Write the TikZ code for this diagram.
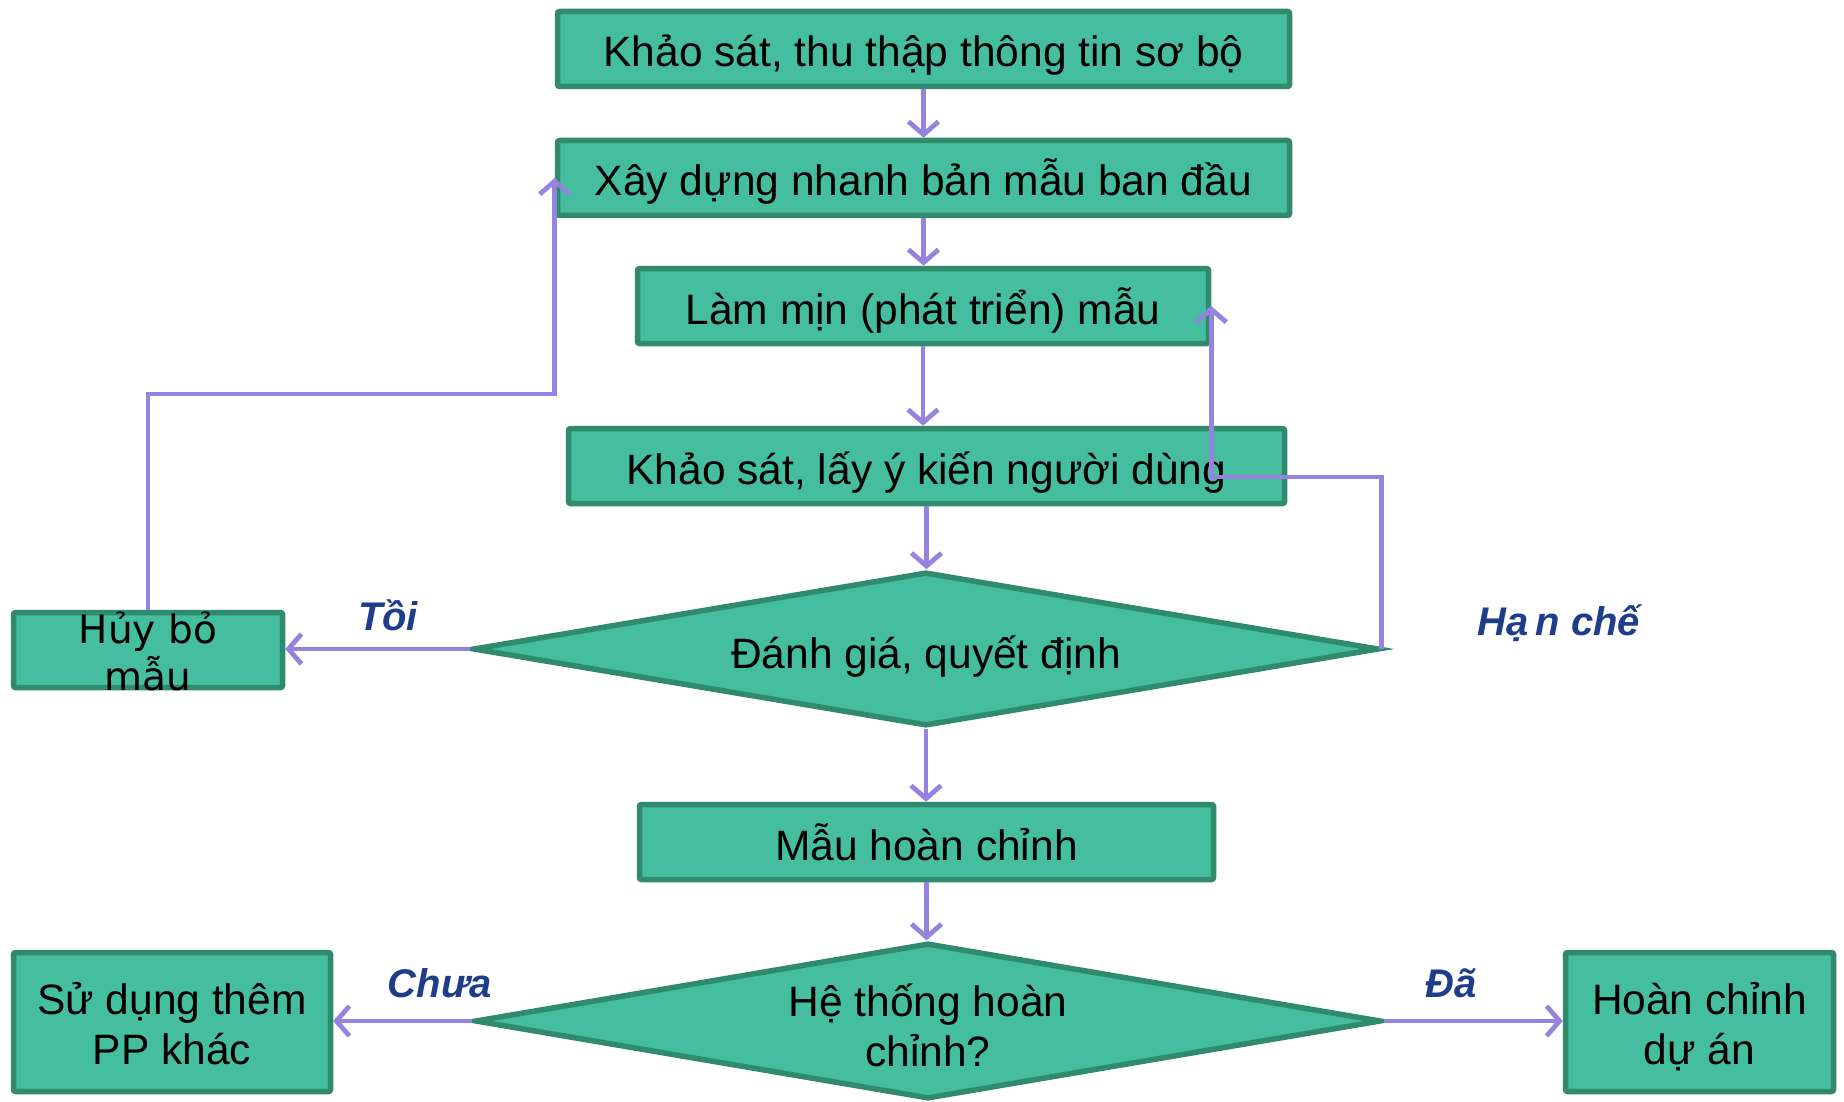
\documentclass[tikz,border=0pt]{standalone}
\usepackage{fontspec}
\setmainfont{Liberation Sans}
\newfontfamily\dvsans{DejaVu Sans}
\usetikzlibrary{shapes.geometric,arrows.meta}
\definecolor{boxfill}{RGB}{69,190,159}
\definecolor{boxline}{RGB}{48,138,110}
\definecolor{flow}{RGB}{150,131,224}
\definecolor{tag}{RGB}{30,62,140}
\tikzset{
  box/.style={draw=boxline, fill=boxfill, line width=5.5pt, rounded corners=2pt,
    inner sep=0pt, align=center, font=\fontsize{42.5}{50}\selectfont},
  onebox/.style={box, minimum height=75pt, text height=40pt, text depth=4pt},
  decision/.style={diamond, draw=boxline, fill=boxfill, line width=5.5pt,
    inner sep=0pt, aspect=5.7},
  txt/.style={font=\fontsize{42.5}{50}\selectfont, align=center, inner sep=0pt},
  conn/.style={draw=flow, line width=4.8pt, -{Straight Barb[length=13pt,width=30pt]}},
  tagtxt/.style={font=\fontsize{40}{48}\selectfont\bfseries\itshape, text=tag, inner sep=0pt},
}
\begin{document}
\begin{tikzpicture}[x=1pt,y=-1pt]
\useasboundingbox (0,0) rectangle (1844,1102);

% main column
\node[onebox, minimum width=732pt] (b1) at (923.5,49) {Khảo sát, thu thập thông tin sơ bộ};
\node[onebox, minimum width=732pt] (b2) at (923.5,178) {Xây dựng nhanh bản mẫu ban đầu};
\node[onebox, minimum width=571pt] (b3) at (923,306) {Làm mịn (phát triển) mẫu};
\node[onebox, minimum width=716pt] (b4) at (926.5,466) {Khảo sát, lấy ý kiến người dùng};
\node[decision, minimum width=906pt, minimum height=154pt] (d1) at (926,649) {};
\node[txt] (d1t) at (926,657) {Đánh giá, quyết định};
\node[onebox, minimum width=574pt] (b5) at (926.5,842) {Mẫu hoàn chỉnh};
\node[decision, minimum width=906pt, minimum height=156pt] (d2) at (928,1021) {};
\node[txt] (d2t) at (928,1025) {Hệ thống hoàn\\chỉnh?};

% side boxes
\node[box, minimum width=269pt, minimum height=75pt] (huy) at (148,650) {};
\node[inner sep=0pt, align=center, font=\dvsans\fontsize{39}{47}\selectfont] (huyt) at (148,651) {Hủy bỏ\\mẫu};
\node[box, minimum width=317pt, minimum height=139pt] (pp) at (172,1022) {};
\node[txt] (ppt) at (172,1024) {Sử dụng thêm\\PP khác};
\node[box, minimum width=268pt, minimum height=139pt] (done) at (1699.5,1022) {};
\node[txt] (donet) at (1699.5,1027) {Hoàn chỉnh\\dự án};

% branch labels
\node[tagtxt] (ltoi) at (388,615) {Tồi};
\node[tagtxt] (lhan) at (1559,623) {Hạ\,n chế};
\node[tagtxt] (lchua) at (440,983) {Chưa};
\node[tagtxt] (lda) at (1451,983) {Đã};

% straight flow
\draw[conn] (b1.south) -- (b1.south |- b2.north);
\draw[conn] (b2.south) -- (b2.south |- b3.north);
\draw[conn] (b3.south) -- (b3.south |- b4.north);
\draw[conn] (b4.south) -- (b4.south |- d1.north);
\draw[conn] (d1.south) -- (d1.south |- b5.north);
\draw[conn] (b5.south) -- (b5.south |- d2.north);

% decision branches
\draw[conn] (d1.west) -- (huy.east |- d1.west);
\draw[conn] (d2.west) -- (pp.east |- d2.west);
\draw[conn] (d2.east) -- (done.west |- d2.east);

% loop back from "Hủy bỏ mẫu"
\coordinate (hbend) at (huy.north |- 0,394);
\draw[conn] (huy.north) -- (hbend) -| (b2.west);

% loop back for "Hạn chế"
\coordinate (rbend) at (d1.east |- 0,477);
\draw[conn] (d1.east) -- (rbend) -| (b3.east);
\end{tikzpicture}
\end{document}
